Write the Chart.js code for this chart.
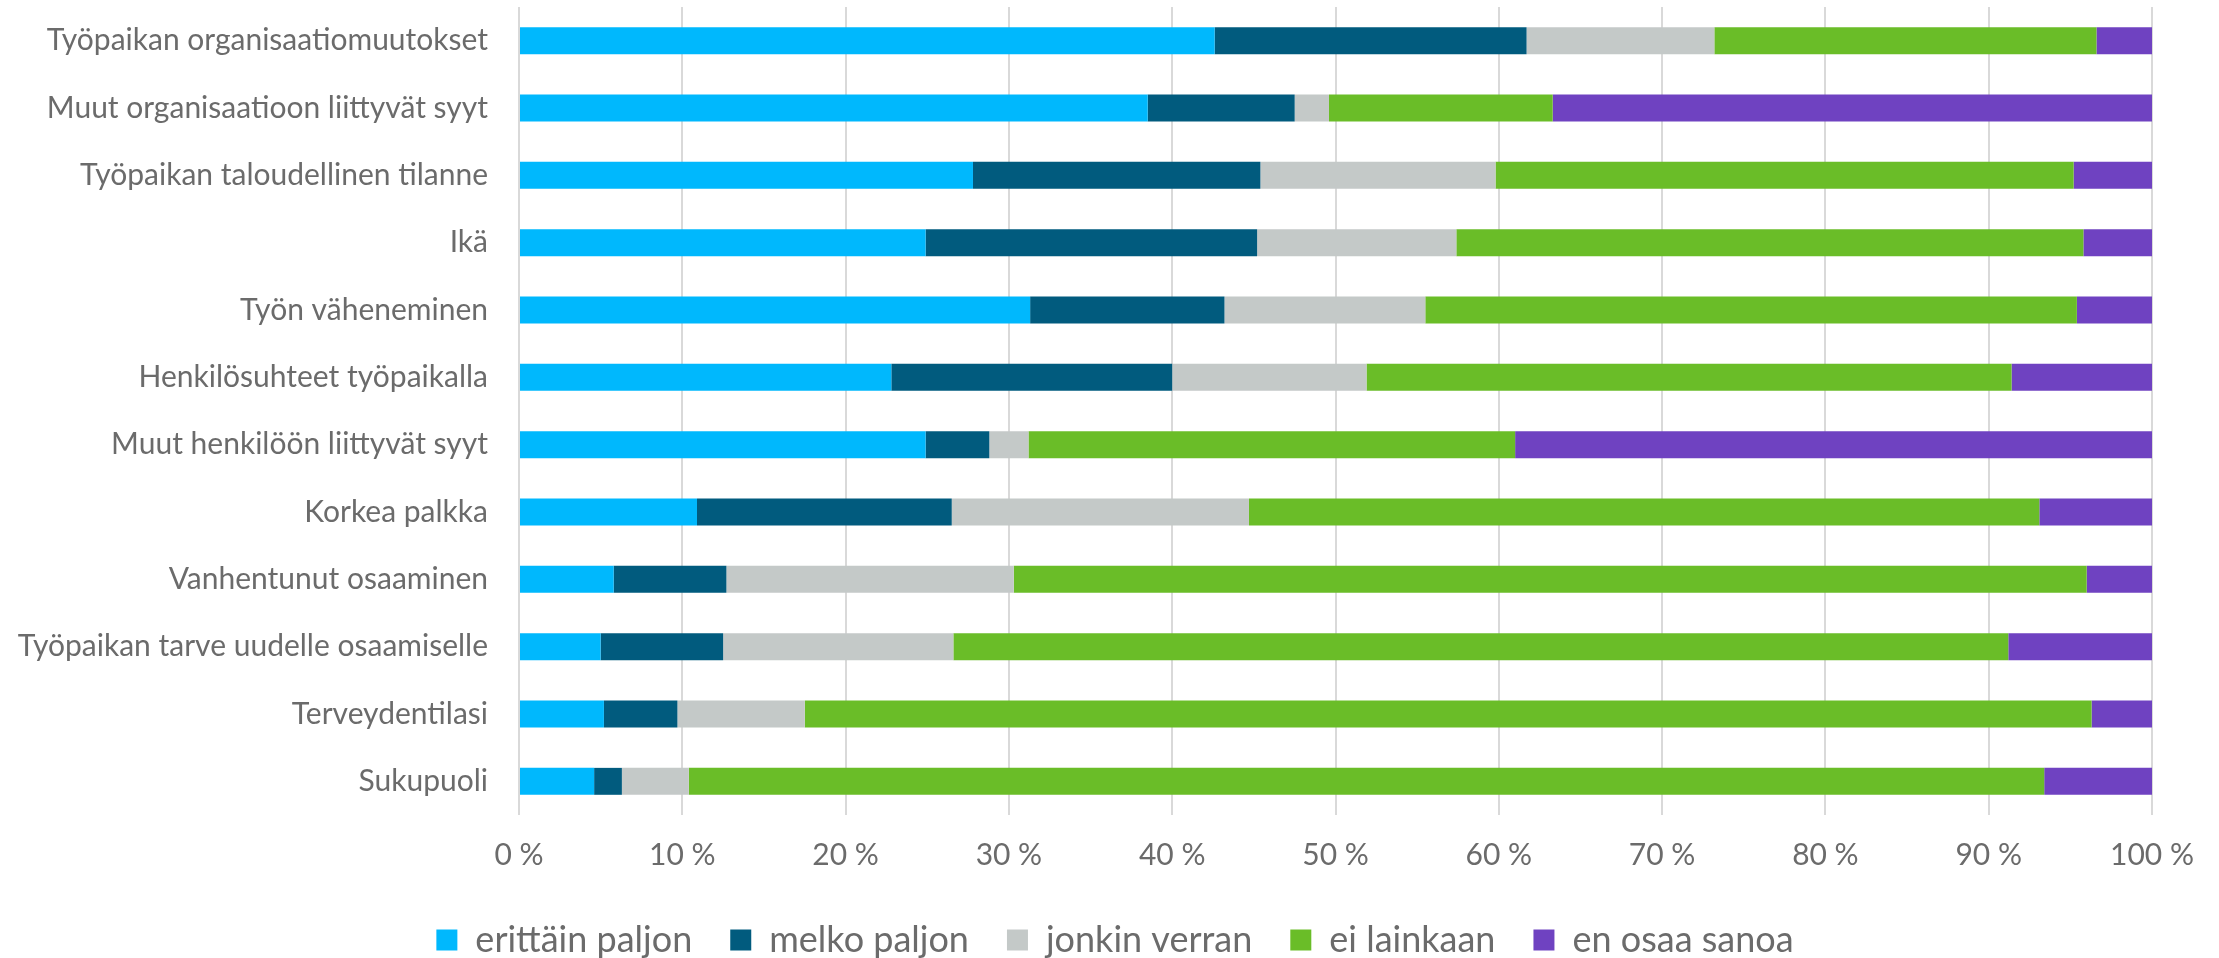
<!DOCTYPE html>
<html>
<head>
<meta charset="utf-8">
<script src="https://cdn.jsdelivr.net/npm/chart.js@4/dist/chart.umd.min.js"></script>
<style>
  html, body { margin: 0; padding: 0; background: #ffffff; }
  #wrap { width: 2219px; height: 958px; }
</style>
</head>
<body>
<div id="wrap"><canvas id="c" width="2219" height="958"></canvas></div>
<script>
const categories = [
  "Työpaikan organisaatiomuutokset",
  "Muut organisaatioon liittyvät syyt",
  "Työpaikan taloudellinen tilanne",
  "Ikä",
  "Työn väheneminen",
  "Henkilösuhteet työpaikalla",
  "Muut henkilöön liittyvät syyt",
  "Korkea palkka",
  "Vanhentunut osaaminen",
  "Työpaikan tarve uudelle osaamiselle",
  "Terveydentilasi",
  "Sukupuoli"
];
const seriesNames = ["erittäin paljon", "melko paljon", "jonkin verran", "ei lainkaan", "en osaa sanoa"];
const erittainPaljon = [42.6, 38.5, 27.8, 24.9, 31.3, 22.8, 24.9, 10.9, 5.8, 5.0, 5.2, 4.6];
const melkoPaljon    = [19.1,  9.0, 17.6, 20.3, 11.9, 17.2,  3.9, 15.6, 6.9, 7.5, 4.5, 1.7];
const jonkinVerran   = [11.5,  2.1, 14.4, 12.2, 12.3, 11.9,  2.4, 18.2, 17.6, 14.1, 7.8, 4.1];
const eiLainkaan     = [23.4, 13.7, 35.4, 38.4, 39.9, 39.5, 29.8, 48.4, 65.7, 64.6, 78.8, 83.0];
const enOsaaSanoa    = [ 3.4, 36.7,  4.8,  4.2,  4.6,  8.6, 39.0,  6.9,  4.0,  8.8,  3.7,  6.6];
const xTickValues = [0, 10, 20, 30, 40, 50, 60, 70, 80, 90, 100];

const colors = ["#00B8FD", "#015B7E", "#C4C9C8", "#6ABD28", "#6F42C1"];
const seriesData = [erittainPaljon, melkoPaljon, jonkinVerran, eiLainkaan, enOsaaSanoa];

const FONT = "Lato";
const TEXT = "#6B6B6B";

Chart.defaults.font.family = FONT;
Chart.defaults.color = TEXT;

const legendShift = {
  id: "legendShift",
  afterLayout(chart) {
    const lg = chart.legend;
    if (lg) {
      lg.top += 10;
      lg.bottom += 10;
      lg.left += 39;
      lg.right += 39;
    }
  }
};

new Chart(document.getElementById("c"), {
  type: "bar",
  data: {
    labels: categories,
    datasets: seriesNames.map((n, i) => ({
      label: n,
      data: seriesData[i],
      backgroundColor: colors[i],
      borderWidth: 0,
      barPercentage: 0.4,
      categoryPercentage: 1.0
    }))
  },
  plugins: [legendShift],
  options: {
    indexAxis: "y",
    responsive: false,
    animation: false,
    devicePixelRatio: 1,
    layout: { padding: { left: 0, right: 67, top: 7, bottom: 0 } },
    plugins: {
      legend: {
        position: "bottom",
        labels: {
          boxWidth: 21,
          boxHeight: 21,
          padding: 38,
          color: TEXT,
          font: { family: FONT, size: 36 }
        }
      },
      tooltip: { enabled: false }
    },
    scales: {
      x: {
        stacked: true,
        min: 0,
        max: 100,
        afterBuildTicks: (s) => { s.ticks = xTickValues.map(v => ({ value: v })); },
        ticks: {
          callback: (v) => v + " %",
          color: TEXT,
          font: { family: FONT, size: 30 },
          padding: 22,
          maxRotation: 0
        },
        grid: { color: "#D9D9D9", lineWidth: 2, drawTicks: false },
        border: { display: false },
        afterFit: (s) => { s.height = 59; s.paddingLeft = 0; s.paddingRight = 0; }
      },
      y: {
        stacked: true,
        ticks: {
          color: TEXT,
          font: { family: FONT, size: 30 },
          padding: 31
        },
        grid: { display: false, drawTicks: false },
        border: { display: false },
        afterFit: (s) => { s.width = 519; s.paddingTop = 0; s.paddingBottom = 0; }
      }
    }
  }
});
</script>
</body>
</html>
